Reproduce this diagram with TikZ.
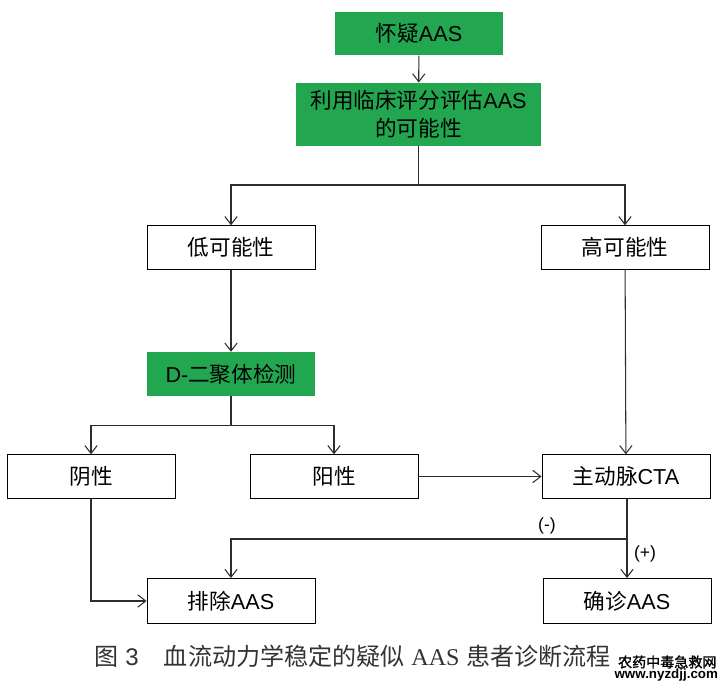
\documentclass[tikz,border=0pt]{standalone}
\usepackage{fontspec}
\usetikzlibrary{arrows.meta}
\setmainfont{Liberation Sans}
\newfontfamily\cjk{Noto Sans CJK SC}
\newfontfamily\cjkbold[FakeBold=1.5]{Noto Sans CJK SC}
\newfontfamily\capserif{Liberation Serif}
\definecolor{boxgreen}{RGB}{34,166,80}
\definecolor{linegray}{RGB}{45,45,45}
\tikzset{
    flowbox/.style={rectangle, draw=black, line width=0.5pt, minimum width=3.36cm, minimum height=0.87cm,
        inner sep=0pt, align=center, font=\fontsize{12.3}{16}\selectfont},
    greenbox/.style={flowbox, draw=none, fill=boxgreen},
    sign/.style={inner sep=0pt, font=\fontsize{10}{12}\selectfont}
}
\begin{document}
\begin{tikzpicture}[
    >={Straight Barb[length=4.5pt,width=7pt]},
    line width=0.6pt
]
  \useasboundingbox (0,0) rectangle (14.52,13.74);

  % nodes
  \node[greenbox] (suspect) at (8.38,13.07) {{\cjk 怀疑}AAS};
  \node[greenbox, minimum width=4.9cm, minimum height=1.26cm] (score) at (8.37,11.45)
      {{\cjk 利用临床评分评估}AAS\\{\cjk 的可能性}};
  \node[flowbox] (low) at (4.62,8.79) {\cjk 低可能性};
  \node[flowbox] (high) at (12.5,8.79) {\cjk 高可能性};
  \node[greenbox] (dimer) at (4.62,6.26) {D-{\cjk 二聚体检测}};
  \node[flowbox] (neg) at (1.82,4.21) {\cjk 阴性};
  \node[flowbox] (pos) at (6.68,4.21) {\cjk 阳性};
  \node[flowbox] (cta) at (12.52,4.21) {{\cjk 主动脉}CTA};
  \node[flowbox, minimum height=0.9cm] (excl) at (4.62,1.72) {{\cjk 排除}AAS};
  \node[flowbox, minimum height=0.9cm] (conf) at (12.54,1.72) {{\cjk 确诊}AAS};

  % branch points
  \coordinate (split1) at (8.37,10.04);
  \coordinate (split2) at (4.62,5.23);
  \coordinate (split3) at (12.54,2.96);

  % edges
  \draw[->, linegray] (suspect) -- (score);
  \draw[linegray] (score) -- (split1);
  \draw[->, linegray] (split1) -| (low);
  \draw[->, linegray] (split1) -| (high);
  \draw[->, linegray] (low) -- (dimer);
  \draw[->, linegray] (high) -- (cta);
  \draw[linegray] (dimer) -- (split2);
  \draw[->, linegray] (split2) -| (neg);
  \draw[->, linegray] (split2) -| (pos);
  \draw[->, linegray] (pos) -- (cta);
  \draw[->, linegray] (neg) |- (excl);
  \draw[linegray] (cta.south -| split3) -- (split3);
  \draw[->, linegray] (split3) -- (conf);
  \draw[->, linegray] (split3) -| (excl);

  % labels
  \node[sign] (minus) at (10.94,3.22) {(-)};
  \node[sign] (plus) at (12.9,2.66) {(+)};
  \node[anchor=west, inner sep=0pt, text=black!80, font=\fontsize{13.7}{16}\selectfont] (caption) at (1.88,0.62)
      {{\cjk 图} 3\hspace{1.05em}{\cjk 血流动力学稳定的疑似} {\capserif AAS} {\cjk 患者诊断流程}};
  \node[anchor=east, inner sep=0pt, font=\fontsize{8}{10}\selectfont] (mark) at (14.34,0.5) {\cjkbold 农药中毒急救网};
  \node[anchor=east, inner sep=0pt, font=\bfseries\fontsize{7.6}{10}\selectfont] (site) at (14.37,0.23) {www.nyzdjj.com};
\end{tikzpicture}
\end{document}
